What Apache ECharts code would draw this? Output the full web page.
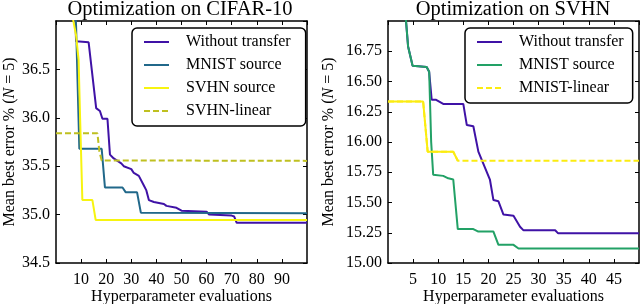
<!DOCTYPE html>
<html><head><meta charset="utf-8">
<script src="https://cdn.jsdelivr.net/npm/echarts@6/dist/echarts.min.js"></script>
<style>html,body{margin:0;padding:0;background:#fff}#c{width:640px;height:304px}</style>
</head><body><div id="c"></div>
<script>
// ---- Data: CIFAR-10 panel (x = hyperparameter evaluations, y = mean best error %) ----
const cifarWithout = [[7,37.6],[8,36.79],[13,36.78],[16,36.1],[17.5,36.07],[18.5,35.99],[20.5,35.99],[21.5,35.62],[23,35.58],[26,35.53],[27,35.5],[30,35.47],[31,35.43],[33,35.40],[35,35.30],[36,35.25],[37,35.15],[39,35.13],[43,35.11],[44,35.09],[48,35.07],[50,35.04],[60,35.03],[61,35.00],[70,34.99],[71,34.98],[72,34.915],[100,34.915]];
const cifarMnist = [[5,38.5],[8,36.95],[9.3,35.68],[18.2,35.68],[19.5,35.28],[26.5,35.28],[27.8,35.23],[32.3,35.23],[33.8,35.02],[100,35.015]];
const cifarSvhn = [[5,37.4],[6.5,37.06],[8,36.85],[9,36.6],[9.6,36.0],[10.5,35.15],[14.5,35.15],[15.8,34.945],[100,34.945]];
const cifarSvhnLinear = [[0,35.84],[16.5,35.84],[17.3,35.65],[18.2,35.56],[100,35.555]];
// ---- Data: SVHN panel ----
const svhnWithout = [[3,17.3],[4,16.79],[4.9,16.63],[7.7,16.62],[8.2,16.58],[8.7,16.35],[9.5,16.35],[11,16.315],[15,16.315],[15.7,16.14],[17,16.13],[18,15.92],[20.3,15.69],[21,15.52],[22,15.51],[23,15.40],[25,15.39],[26.3,15.30],[27,15.27],[33.3,15.27],[33.9,15.245],[50,15.245]];
const svhnMnist = [[3,17.3],[4,16.79],[4.9,16.63],[7.7,16.62],[8.2,16.58],[8.6,16.0],[9.0,15.73],[11,15.72],[12,15.70],[13,15.69],[13.9,15.28],[17,15.28],[18,15.26],[21,15.26],[22,15.15],[25,15.15],[26,15.12],[50,15.12]];
const svhnMnistLinear = [[0,16.335],[7.0,16.335],[7.9,15.92],[13,15.92],[13.9,15.845],[50,15.845]];
// ---- Labels ----
const titles = ['Optimization on CIFAR-10', 'Optimization on SVHN'];
const xName = 'Hyperparameter evaluations';
const legendLeft = ['Without transfer', 'MNIST source', 'SVHN source', 'SVHN-linear'];
const legendRight = ['Without transfer ', 'MNIST source ', 'MNIST-linear'];

const FF = "'Liberation Serif','DejaVu Serif','Times New Roman',serif";
const BLK = '#000';

function axesFor(g, xmin, xmax, xint, ymin, ymax, yint, ydec, yGap) {
  const lab = {color: BLK, fontFamily: FF, fontSize: 16};
  const line = {show: true, onZero: false, lineStyle: {color: BLK, width: 1.5}};
  const tick = {show: true, inside: true, length: 4, lineStyle: {color: BLK, width: 1}};
  const xs = [
    {type: 'value', gridIndex: g, position: 'bottom', min: xmin, max: xmax, interval: xint,
     axisLine: line, axisTick: tick, splitLine: {show: false},
     axisLabel: Object.assign({showMinLabel: false, showMaxLabel: false, margin: 9}, lab),
     name: xName, nameLocation: 'middle', nameGap: 26, nameMoveOverlap: false,
     nameTextStyle: {color: BLK, fontFamily: FF, fontSize: 16}},
    {type: 'value', gridIndex: g, position: 'top', min: xmin, max: xmax, interval: xint,
     axisLine: line, axisTick: tick, splitLine: {show: false}, axisLabel: {show: false}}
  ];
  const ys = [
    {type: 'value', gridIndex: g, position: 'left', min: ymin, max: ymax, interval: yint,
     axisLine: line, axisTick: tick, splitLine: {show: false},
     axisLabel: Object.assign({showMaxLabel: false, margin: 6, formatter: v => v.toFixed(ydec)}, lab),
     name: '{n|Mean best error % (}{i|N}{n| = 5)}', nameLocation: 'middle', nameGap: yGap, nameMoveOverlap: false,
     nameTextStyle: {rich: {n: {color: BLK, fontFamily: FF, fontSize: 16}, i: {color: BLK, fontFamily: FF, fontSize: 16, fontStyle: 'italic'}}}},
    {type: 'value', gridIndex: g, position: 'right', min: ymin, max: ymax, interval: yint,
     axisLine: line, axisTick: tick, splitLine: {show: false}, axisLabel: {show: false}}
  ];
  return {xs, ys};
}

const a0 = axesFor(0, 0, 100, 10, 34.5, 37.0, 0.5, 1, 38);
const a1 = axesFor(1, 0, 50, 5, 15.0, 17.0, 0.25, 2, 51);

function ser(name, data, xi, yi, color, dashed) {
  return {type: 'line', name, data, xAxisIndex: xi, yAxisIndex: yi, symbol: 'none', clip: true,
    animation: false, lineStyle: {color, width: 2, type: dashed ? [6, 3] : 'solid'}, itemStyle: {color}};
}

const legendCommon = {orient: 'vertical', itemWidth: 25, itemHeight: 14, itemGap: 7,
  borderColor: BLK, borderWidth: 1.5, borderRadius: 5, backgroundColor: '#fff',
  formatter: n => n.trim(), selectedMode: false,
  itemStyle: {color: 'transparent', borderWidth: 0, opacity: 0},
  textStyle: {color: BLK, fontFamily: FF, fontSize: 16, lineHeight: 16, padding: [0, 0, 0, 12]}};

const titleStyle = {color: BLK, fontFamily: FF, fontSize: 20.5, fontWeight: 'normal'};

const chart = echarts.init(document.getElementById('c'), null, {renderer: 'canvas'});
chart.setOption({
  animation: false,
  backgroundColor: '#fff',
  title: [
    {text: titles[0], left: 180, top: -1, padding: 0, textAlign: 'center', textStyle: titleStyle},
    {text: titles[1], left: 513, top: -1, padding: 0, textAlign: 'center', textStyle: titleStyle}
  ],
  grid: [
    {left: 56, top: 21, width: 251, height: 242, containLabel: false, outerBoundsMode: 'none'},
    {left: 388, top: 21, width: 251, height: 242, containLabel: false, outerBoundsMode: 'none'}
  ],
  xAxis: a0.xs.concat(a1.xs),
  yAxis: a0.ys.concat(a1.ys),
  legend: [
    Object.assign({}, legendCommon, {data: legendLeft, left: 132, top: 28, padding: [6, 15, 7, 11]}),
    Object.assign({}, legendCommon, {data: legendRight, left: 465, top: 28, padding: [6, 9, 7, 11]})
  ],
  series: [
    ser(legendLeft[0], cifarWithout, 0, 0, '#3f12a6', false),
    ser(legendLeft[1], cifarMnist, 0, 0, '#21688a', false),
    ser(legendLeft[2], cifarSvhn, 0, 0, '#f7f410', false),
    ser(legendLeft[3], cifarSvhnLinear, 0, 0, '#bfc020', true),
    ser(legendRight[0], svhnWithout, 2, 2, '#3f12a6', false),
    ser(legendRight[1], svhnMnist, 2, 2, '#22a166', false),
    ser(legendRight[2], svhnMnistLinear, 2, 2, '#fbec10', true),
    ser('MNIST-linear (start)', svhnMnistLinear.filter(p => p[0] <= 13.9), 2, 2, '#fbec10', false)
  ]
});
</script></body></html>
